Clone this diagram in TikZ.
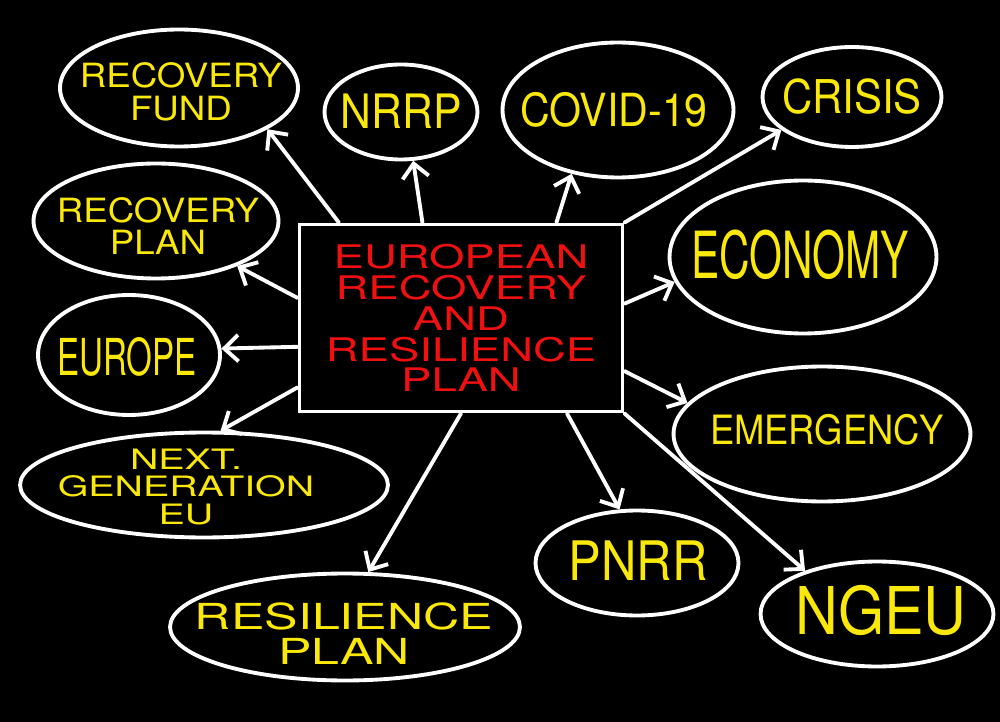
\documentclass[tikz,border=0pt]{standalone}
\usepackage{fontspec}
\usepackage{tikz}
\usetikzlibrary{arrows.meta}
\usetikzlibrary{shapes.geometric}
\newfontfamily\hand{TeX Gyre Heros}[FakeStretch=0.9]
\newfontfamily\handn{TeX Gyre Heros}[FakeStretch=0.65]
\newfontfamily\handm{TeX Gyre Heros}[FakeStretch=1.1]
\newfontfamily\handw{TeX Gyre Heros}[FakeStretch=1.4]
\definecolor{chalkyellow}{RGB}{250,232,10}
\definecolor{chalkred}{RGB}{240,16,16}

\begin{document}
\begin{tikzpicture}[x=0.02cm,y=-0.02cm]
				\fill[black] (0,0) rectangle (1000,722);
				\node[rectangle, draw=white, line width=2.2pt, minimum width=6.46cm,
					minimum height=3.74cm] (plan) at (461,318) {};
				\node[text=chalkred, align=center, inner sep=0pt,
					font=\handw\fontsize{18.5}{17.6}\selectfont] (plan-t) at (plan.center)
					{EUROPEAN\\RECOVERY\\AND\\RESILIENCE\\PLAN};
				% bubbles
				\begin{scope}[every node/.style = {ellipse, draw=white, line width=2.2pt, inner sep=0pt}]
					\node[minimum width=4.76cm, minimum height=2.34cm] (rfund) at (179,88) {};
					\node[minimum width=3.06cm, minimum height=1.9cm] (nrrp) at (401,112) {};
					\node[minimum width=4.62cm, minimum height=2.7cm] (covid) at (618,110) {};
					\node[minimum width=3.58cm, minimum height=2cm] (crisis) at (852,97) {};
					\node[minimum width=4.9cm, minimum height=2.3cm] (rplan) at (156,221) {};
					\node[minimum width=5.34cm, minimum height=3.06cm] (economy) at (803,257) {};
					\node[minimum width=3.64cm, minimum height=2.4cm] (europe) at (129,355) {};
					\node[minimum width=5.94cm, minimum height=2.7cm] (emerg) at (822,434) {};
					\node[minimum width=7.36cm, minimum height=2.1cm] (nextgen) at (204,485) {};
					\node[minimum width=4.06cm, minimum height=2.1cm] (pnrr) at (637,563) {};
					\node[minimum width=4.66cm, minimum height=2.1cm] (ngeu) at (877,614) {};
					\node[minimum width=7cm, minimum height=2.14cm] (rsplan) at (345,627) {};
				\end{scope}
				% words
				\begin{scope}[every node/.style = {text=chalkyellow, align=center, inner sep=0pt}]
					\node[font=\handm\fontsize{19}{18.5}\selectfont] (rfund-t) at (181,92) {RECOVERY\\FUND};
					\node[font=\hand\fontsize{27}{30}\selectfont] (nrrp-t) at (401,111) {NRRP};
					\node[font=\hand\fontsize{26}{30}\selectfont] (covid-t) at (614,110) {COVID-19};
					\node[font=\hand\fontsize{26.5}{30}\selectfont] (crisis-t) at (852,97) {CRISIS};
					\node[font=\handm\fontsize{19}{18.5}\selectfont] (rplan-t) at (158,226) {RECOVERY\\PLAN};
					\node[font=\handn\fontsize{37}{40}\selectfont] (economy-t) at (800,255) {ECONOMY};
					\node[font=\handn\fontsize{29}{32}\selectfont] (europe-t) at (127,357) {EUROPE};
					\node[font=\hand\fontsize{23}{26}\selectfont] (emerg-t) at (827,430) {EMERGENCY};
					\node[font=\handw\fontsize{16}{15.5}\selectfont] (nextgen-t) at (186,487) {NEXT.\\GENERATION\\EU};
					\node[font=\hand\fontsize{31}{34}\selectfont] (pnrr-t) at (638,561) {PNRR};
					\node[font=\hand\fontsize{37.5}{40}\selectfont] (ngeu-t) at (881,610) {NGEU};
					\node[font=\handw\fontsize{20.4}{20}\selectfont] (rsplan-t) at (344,634) {RESILIENCE\\PLAN};
				\end{scope}
				\begin{scope}[>={Straight Barb[length=8pt,width=15pt]},
						every edge/.style={draw=white, line width=2.2pt, line cap=round}]
					\path [->] (plan.142) edge (rfund.-25);
					\path [->] (plan.112) edge (nrrp.-76);
					\path [->] (plan.45) edge (covid.-126);
					\path [->] (plan.north east) edge (crisis.-155);
					\path [->] (plan.5) edge (economy.-169);
					\path [->] (plan.-18) edge (emerg.167);
					\path [->] (plan.south east) edge (ngeu.149);
					\path [->] (plan.-42) edge (pnrr.108);
					\path [->] (plan.south) edge (rsplan.67);
					\path [->] (plan.203) edge (nextgen.73);
					\path [->] (plan.190) edge (europe.4);
					\path [->] (plan.173) edge (rplan.-29);
				\end{scope}
			\end{tikzpicture}
\end{document}
